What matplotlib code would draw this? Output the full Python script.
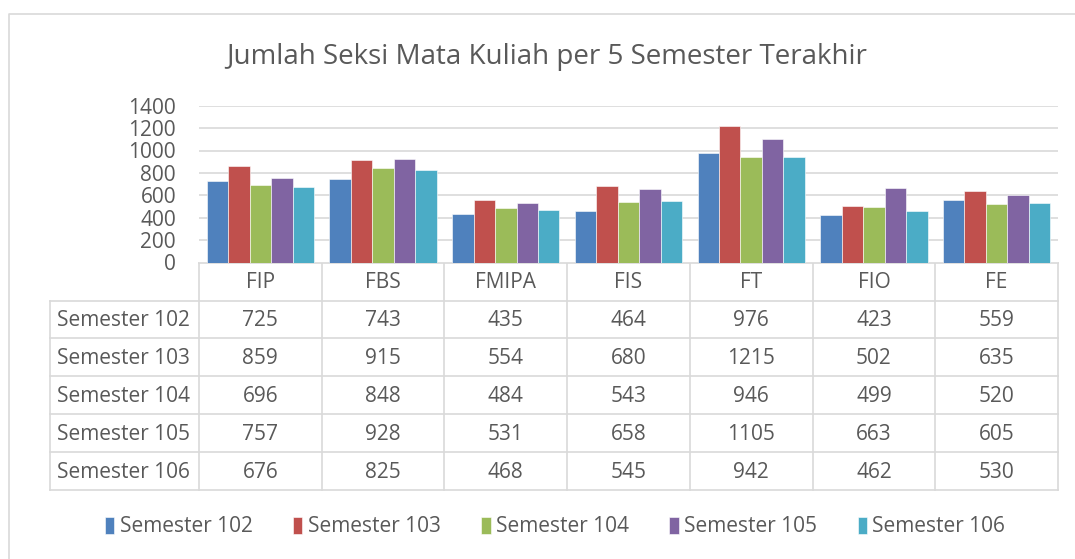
import numpy as np
from matplotlib import pyplot as plt

# data
fakultas = ["FIP", "FBS", "FMIPA", "FIS", "FT", "FIO", "FE"]
semester = ["Semester 102", "Semester 103", "Semester 104", "Semester 105", "Semester 106"]
sem_102 = [725, 743, 435, 464, 976, 423, 559]
sem_103 = [859, 915, 554, 680, 1215, 502, 635]
sem_104 = [696, 848, 484, 543, 946, 499, 520]
sem_105 = [757, 928, 531, 658, 1105, 663, 605]
sem_106 = [676, 825, 468, 545, 942, 462, 530]
y_ticks = [0, 200, 400, 600, 800, 1000, 1200, 1400]

series = [sem_102, sem_103, sem_104, sem_105, sem_106]
colors = ["#4F81BD", "#C0504D", "#9BBB59", "#8064A2", "#4BACC6"]
txt = "#595959"
grid = "#D9D9D9"
FS = 15

plt.rcParams['font.family'] = ['Open Sans', 'DejaVu Sans']

W, H = 1075, 559
fig = plt.figure(figsize=(W / 100, H / 100), dpi=100)


def px(x0, y0, x1, y1):
    # pixel box (top-left origin) -> figure fraction
    return [x0 / W, 1 - y1 / H, (x1 - x0) / W, (y1 - y0) / H]


# outer frame (top + left only visible)
frame = fig.add_axes([0, 0, 1, 1])
frame.set_xlim(0, W)
frame.set_ylim(H, 0)
frame.axis('off')
frame.plot([8.5, 8.5, W], [H, 13.5, 13.5], color="#D9D9D9", lw=1.2)

# bars
PL, PR, PT, PB = 199, 1058, 105.7, 262.5
ax = fig.add_axes(px(PL, PT, PR, PB))
n = len(fakultas)
x = np.arange(n)
bw = 0.175
for i, (vals, c) in enumerate(zip(series, colors)):
    ax.bar(x + (i - 2) * bw, vals, bw, color=c, edgecolor="white", lw=0.4,
           label=semester[i], zorder=3)
ax.set_xlim(-0.5, n - 0.5)
ax.set_ylim(0, 1400)
ax.set_yticks(y_ticks)
ax.set_yticklabels([str(t) for t in y_ticks], fontsize=FS, color=txt)
ax.tick_params(axis='y', length=0, pad=16.5)
ax.set_xticks([])
ax.yaxis.grid(True, color=grid, lw=1.2, zorder=0)
for s in ax.spines.values():
    s.set_visible(False)

# data table
tab = fig.add_axes([0, 0, 1, 1], zorder=-1)
tab.set_xlim(0, W)
tab.set_ylim(H, 0)
tab.axis('off')
col_edges = np.linspace(PL, PR, n + 1)
row_edges = [263, 300.5, 338, 376, 414, 452, 490]
lc = "#D9D9D9"
tab.plot([PL, PR], [row_edges[0], row_edges[0]], color=lc, lw=1.2)
for xe in col_edges:
    tab.plot([xe, xe], [row_edges[0], row_edges[-1]], color=lc, lw=1.2)
tab.plot([50, 50], [row_edges[1], row_edges[-1]], color=lc, lw=1.2)
for ye in row_edges[1:]:
    tab.plot([50, PR], [ye, ye], color=lc, lw=1.2)
for j, name in enumerate(fakultas):
    cx = (col_edges[j] + col_edges[j + 1]) / 2
    tab.text(cx, (row_edges[0] + row_edges[1]) / 2 + 1, name, ha='center',
             va='center', fontsize=FS, color=txt)
for i, vals in enumerate(series):
    cy = (row_edges[i + 1] + row_edges[i + 2]) / 2 + 1
    tab.text(57, cy, semester[i], ha='left', va='center', fontsize=FS, color=txt)
    for j, v in enumerate(vals):
        cx = (col_edges[j] + col_edges[j + 1]) / 2
        tab.text(cx, cy, str(v), ha='center', va='center', fontsize=FS, color=txt)

# title
fig.text(547 / W, 1 - 57 / H, "Jumlah Seksi Mata Kuliah per 5 Semester Terakhir",
         ha='center', va='center', fontsize=20, color=txt)

# legend
leg = fig.legend(loc='center', bbox_to_anchor=(555 / W, 1 - 527 / H), ncol=5,
                 frameon=False, fontsize=FS, handlelength=0.45, handleheight=0.85,
                 handletextpad=0.25, columnspacing=1.95)
for t in leg.get_texts():
    t.set_color(txt)

fig.savefig("out.png", dpi=100)
